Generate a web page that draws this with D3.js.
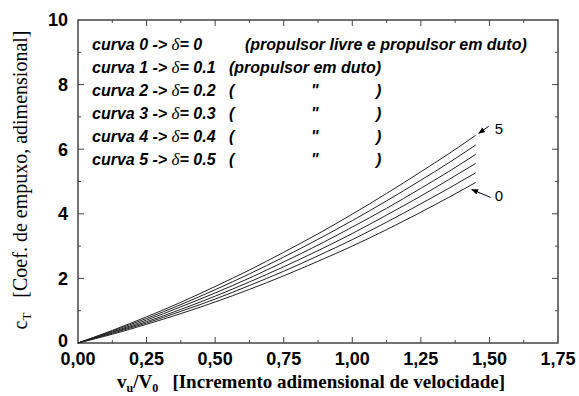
<!DOCTYPE html>
<html>
<head>
<meta charset="utf-8">
<script src="https://cdn.jsdelivr.net/npm/d3@7"></script>
<style>
  body { margin: 0; background: #fff; }
  svg { display: block; }
  text { white-space: pre; }
</style>
</head>
<body>
<div id="chart"></div>
<script>
// velocity ratio v_u/V_0 sampled along the curves
const xValues = [0, 0.125, 0.25, 0.375, 0.5, 0.625, 0.75, 0.875, 1.0, 1.125, 1.25, 1.35, 1.45];

// c_T for each curve (delta = 0 ... 0.5)
const curve0 = [0, 0.27, 0.58, 0.91, 1.27, 1.66, 2.08, 2.53, 3.00, 3.51, 4.05, 4.50, 4.97];
const curve1 = [0, 0.30, 0.62, 0.98, 1.36, 1.78, 2.22, 2.70, 3.20, 3.74, 4.31, 4.78, 5.27];
const curve2 = [0, 0.32, 0.66, 1.04, 1.45, 1.89, 2.36, 2.86, 3.39, 3.96, 4.55, 5.05, 5.56];
const curve3 = [0, 0.34, 0.71, 1.12, 1.55, 2.01, 2.51, 3.03, 3.59, 4.17, 4.79, 5.30, 5.84];
const curve4 = [0, 0.37, 0.76, 1.19, 1.65, 2.14, 2.66, 3.21, 3.79, 4.40, 5.04, 5.57, 6.13];
const curve5 = [0, 0.39, 0.81, 1.26, 1.75, 2.26, 2.81, 3.38, 3.99, 4.63, 5.30, 5.85, 6.43];
const curves = [curve0, curve1, curve2, curve3, curve4, curve5];

// legend rows
const deltas = ['0', '0.1', '0.2', '0.3', '0.4', '0.5'];
const notes = ['(propulsor livre e propulsor em duto)', '(propulsor em duto)', '(', '(', '(', '('];

const xTicks = [0, 0.25, 0.5, 0.75, 1.0, 1.25, 1.5, 1.75];
const yTicks = [0, 2, 4, 6, 8, 10];

let drawChart = function() {
    let width = 579, height = 396;
    let margin = {top: 20, right: 21, bottom: 53, left: 78};

    let svg = d3.select('#chart')
    .append('svg')
        .attr('width', width)
        .attr('height', height);

    let x = d3.scaleLinear().domain([0, 1.75]).range([margin.left, width - margin.right]);
    let y = d3.scaleLinear().domain([0, 10]).range([height - margin.bottom, margin.top]);

    let axisColor = '#444';
    let boldSans = 'Arial, "Liberation Sans", sans-serif';
    let serif = '"Liberation Serif", "Times New Roman", serif';

    // minor ticks (inside, all four sides)
    let xMinor = d3.range(0.125, 1.75, 0.25);
    let yMinor = d3.range(1, 10, 2);

    let ticks = svg.append('g').attr('stroke', axisColor).attr('stroke-width', 1);
    xTicks.slice(1, -1).forEach(function(t) {
        ticks.append('line').attr('x1', x(t)).attr('x2', x(t)).attr('y1', y(0)).attr('y2', y(0) - 6);
        ticks.append('line').attr('x1', x(t)).attr('x2', x(t)).attr('y1', y(10)).attr('y2', y(10) + 6);
    });
    xMinor.forEach(function(t) {
        ticks.append('line').attr('x1', x(t)).attr('x2', x(t)).attr('y1', y(0)).attr('y2', y(0) - 3);
        ticks.append('line').attr('x1', x(t)).attr('x2', x(t)).attr('y1', y(10)).attr('y2', y(10) + 3);
    });
    yTicks.slice(1, -1).forEach(function(t) {
        ticks.append('line').attr('x1', x(0)).attr('x2', x(0) + 6).attr('y1', y(t)).attr('y2', y(t));
        ticks.append('line').attr('x1', x(1.75)).attr('x2', x(1.75) - 6).attr('y1', y(t)).attr('y2', y(t));
    });
    yMinor.forEach(function(t) {
        ticks.append('line').attr('x1', x(0)).attr('x2', x(0) + 3).attr('y1', y(t)).attr('y2', y(t));
        ticks.append('line').attr('x1', x(1.75)).attr('x2', x(1.75) - 3).attr('y1', y(t)).attr('y2', y(t));
    });

    // frame
    svg.append('rect')
        .attr('x', x(0)).attr('y', y(10))
        .attr('width', x(1.75) - x(0)).attr('height', y(0) - y(10))
        .attr('fill', 'none').attr('stroke', axisColor).attr('stroke-width', 1.5);

    // tick labels
    svg.append('g').selectAll('text')
    .data(xTicks)
    .enter()
    .append('text')
        .attr('x', d => x(d))
        .attr('y', y(0) + 22)
        .attr('text-anchor', 'middle')
        .style('font', 'bold 18px ' + boldSans)
        .text(d => d3.format('.2f')(d).replace('.', ','));

    svg.append('g').selectAll('text')
    .data(yTicks)
    .enter()
    .append('text')
        .attr('x', x(0) - 10)
        .attr('y', d => y(d) - (d === 0 ? 2 : 0))
        .attr('dy', '0.36em')
        .attr('text-anchor', 'end')
        .style('font', 'bold 18px ' + boldSans)
        .text(d => d);

    // curves
    let line = d3.line()
        .x((d, i) => x(xValues[i]))
        .y(d => y(d))
        .curve(d3.curveMonotoneX);

    svg.append('g').selectAll('path')
    .data(curves)
    .enter()
    .append('path')
        .attr('d', line)
        .attr('fill', 'none')
        .attr('stroke', '#222')
        .attr('stroke-width', 1);

    // legend text
    let legend = svg.append('g')
        .style('font', 'italic bold 16px ' + boldSans)
        .attr('fill', '#000');
    deltas.forEach(function(d, i) {
        let ty = 50 + i * 23;
        let t = legend.append('text').attr('x', 92).attr('y', ty);
        t.append('tspan').text('curva ' + i + ' -> ');
        t.append('tspan').style('font', 'italic 17px ' + serif).text('δ');
        t.append('tspan').text('= ' + d);
        legend.append('text').attr('x', i === 0 ? 245 : 229).attr('y', ty).text(notes[i]);
        if (i >= 2) {
            legend.append('text').attr('x', 311).attr('y', ty).text('"');
            legend.append('text').attr('x', 376).attr('y', ty).text(')');
        }
    });

    // curve number annotations with arrows
    svg.append('defs').append('marker')
        .attr('id', 'head')
        .attr('viewBox', '0 0 10 10')
        .attr('refX', 9).attr('refY', 5)
        .attr('markerWidth', 7).attr('markerHeight', 7)
        .attr('orient', 'auto')
    .append('path')
        .attr('d', 'M0,1 L10,5 L0,9 Z')
        .attr('fill', '#000');

    let last = xValues.length - 1;
    let ann = svg.append('g');
    ann.append('line')
        .attr('x1', x(xValues[last]) + 13).attr('y1', y(curve5[last]) - 9)
        .attr('x2', x(xValues[last]) + 3).attr('y2', y(curve5[last]) - 2)
        .attr('stroke', '#000').attr('stroke-width', 1)
        .attr('marker-end', 'url(#head)');
    ann.append('text')
        .attr('x', x(xValues[last]) + 19).attr('y', y(curve5[last]) - 1)
        .style('font', '15px ' + boldSans)
        .text('5');
    ann.append('line')
        .attr('x1', x(xValues[last]) + 15).attr('y1', y(curve0[last]) + 15)
        .attr('x2', x(xValues[last]) - 4).attr('y2', y(curve0[last]) + 7)
        .attr('stroke', '#000').attr('stroke-width', 1)
        .attr('marker-end', 'url(#head)');
    ann.append('text')
        .attr('x', x(xValues[last]) + 19).attr('y', y(curve0[last]) + 19)
        .style('font', '15px ' + boldSans)
        .text('0');

    // axis titles
    let xt = svg.append('text')
        .attr('x', 311).attr('y', 388)
        .attr('text-anchor', 'middle')
        .style('font', 'bold 19px ' + serif);
    xt.append('tspan').text('v');
    xt.append('tspan').attr('dy', 4).style('font-size', '12px').text('u');
    xt.append('tspan').attr('dy', -4).text('/V');
    xt.append('tspan').attr('dy', 4).style('font-size', '12px').text('0');
    xt.append('tspan').attr('dy', -4).text('   [Incremento adimensional de velocidade]');

    let yt = svg.append('text')
        .attr('transform', 'translate(27,' + 180 + ') rotate(-90)')
        .attr('text-anchor', 'middle')
        .style('font', '20px ' + serif);
    yt.append('tspan').text('c');
    yt.append('tspan').attr('dy', 4).style('font-size', '13px').text('T');
    yt.append('tspan').attr('dy', -4).text('   [Coef. de empuxo, adimensional]');
}

drawChart();
</script>
</body>
</html>
